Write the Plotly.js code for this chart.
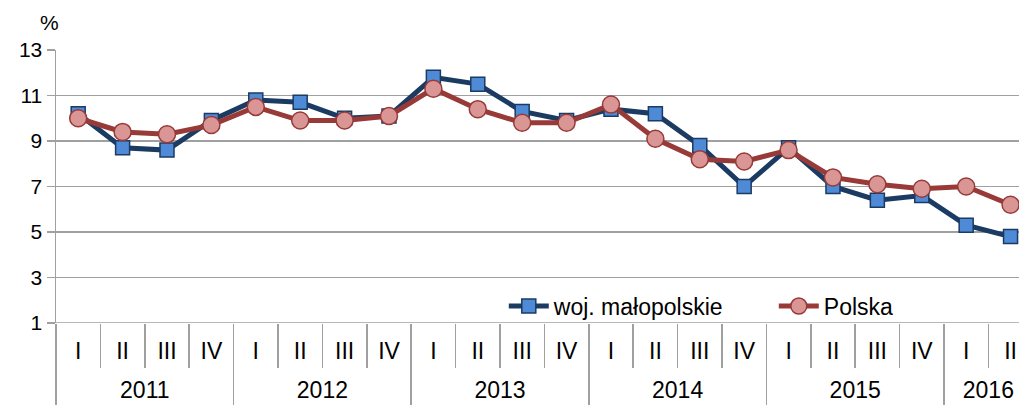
<!DOCTYPE html>
<html>
<head>
<meta charset="utf-8">
<script src="https://cdn.plot.ly/plotly-3.0.1.min.js"></script>
<style>html,body{margin:0;padding:0;background:#fff;}#chart{width:1019px;height:405px;}</style>
</head>
<body>
<div id="chart"></div>
<script>
const years = ["2011","2011","2011","2011","2012","2012","2012","2012","2013","2013","2013","2013","2014","2014","2014","2014","2015","2015","2015","2015","2016","2016"];
const quarters = ["I","II","III","IV","I","II","III","IV","I","II","III","IV","I","II","III","IV","I","II","III","IV","I","II"];
const malopolskie = [10.2, 8.7, 8.6, 9.9, 10.8, 10.7, 10.0, 10.1, 11.8, 11.5, 10.3, 9.9, 10.4, 10.2, 8.8, 7.0, 8.7, 7.0, 6.4, 6.6, 5.3, 4.8];
const polska = [10.0, 9.4, 9.3, 9.7, 10.5, 9.9, 9.9, 10.1, 11.3, 10.4, 9.8, 9.8, 10.6, 9.1, 8.2, 8.1, 8.6, 7.4, 7.1, 6.9, 7.0, 6.2];
const yTicks = [1, 3, 5, 7, 9, 11, 13];

// derived: unique category keys, year groups
const keys = years.map((y, i) => y + " " + quarters[i]);
const yearNames = [...new Set(years)];
const yearStart = yearNames.map(y => years.indexOf(y));
const yearEnd = yearNames.map(y => years.lastIndexOf(y));
const yearCenters = yearNames.map((y, k) => (yearStart[k] + yearEnd[k]) / 2);
const yearBounds = yearStart.map(s => s - 0.5);

const font = "Liberation Sans, Arial, sans-serif";
const grey = "#a0a0a0";
const xRange = [-0.5, 21.19];

function axisHolder(xs, axis) {
  return {x: xs, y: xs.map(() => null), xaxis: axis, yaxis: "y", type: "scatter", mode: "lines",
          showlegend: false, hoverinfo: "skip", line: {width: 0}};
}

const traces = [
  {
    x: keys, y: malopolskie, name: "woj. małopolskie",
    type: "scatter", mode: "lines+markers", cliponaxis: false,
    line: {color: "#1b3b63", width: 5},
    marker: {symbol: "square", size: 14, color: "#4f8ad6", line: {color: "#1b3b63", width: 1.5}}
  },
  {
    x: keys, y: polska, name: "Polska",
    type: "scatter", mode: "lines+markers", cliponaxis: false,
    line: {color: "#973a38", width: 5},
    marker: {symbol: "circle", size: 17, color: "#d99694", line: {color: "#973a38", width: 1.5}}
  },
  axisHolder(keys, "x2"),
  axisHolder(yearCenters, "x3"),
  axisHolder(yearBounds, "x4")
];

const layout = {
  width: 1019, height: 405,
  margin: {l: 56, r: 0, t: 50, b: 82, autoexpand: false},
  paper_bgcolor: "#fff", plot_bgcolor: "#fff",
  font: {family: font, size: 20, color: "#000"},
  showlegend: true,
  legend: {orientation: "h", x: 0.465, y: 0.062, xanchor: "left", yanchor: "middle",
           font: {family: font, size: 23, color: "#000"}, bgcolor: "rgba(0,0,0,0)",
           entrywidth: 215, itemwidth: 40, traceorder: "normal"},
  // quarter labels
  xaxis: {
    type: "category", categoryorder: "array", categoryarray: keys,
    range: xRange, autorange: false, automargin: false,
    tickvals: keys, ticktext: quarters,
    showline: false, showgrid: false, zeroline: false,
    ticks: "", ticklabelstandoff: 12,
    tickfont: {family: font, size: 23, color: "#000"}
  },
  // quarter separators
  xaxis2: {
    type: "category", categoryorder: "array", categoryarray: keys,
    overlaying: "x", anchor: "y", side: "bottom",
    range: xRange, autorange: false, automargin: false,
    tickvals: keys, tickson: "boundaries",
    ticks: "outside", ticklen: 44, tickcolor: grey, tickwidth: 1.5,
    showticklabels: false, showline: false, showgrid: false, zeroline: false
  },
  // year labels
  xaxis3: {
    type: "linear", overlaying: "x", anchor: "y", side: "bottom",
    range: xRange, autorange: false, automargin: false,
    tickvals: yearCenters, ticktext: yearNames,
    ticks: "", ticklabelstandoff: 51,
    tickfont: {family: font, size: 23, color: "#000"},
    showline: false, showgrid: false, zeroline: false
  },
  // year dividers
  xaxis4: {
    type: "linear", overlaying: "x", anchor: "y", side: "bottom",
    range: xRange, autorange: false, automargin: false,
    tickvals: yearBounds,
    ticks: "outside", ticklen: 82, tickcolor: grey, tickwidth: 1.5,
    showticklabels: false, showline: false, showgrid: false, zeroline: false
  },
  yaxis: {
    range: [1, 13], tickvals: yTicks, ticktext: yTicks.map(String),
    automargin: false,
    showgrid: true, gridcolor: grey, gridwidth: 1.5,
    showline: true, linecolor: grey, linewidth: 1.5,
    ticks: "outside", ticklen: 8, tickcolor: grey, tickwidth: 1.5,
    tickfont: {family: font, size: 21, color: "#000"},
    zeroline: false, fixedrange: true
  },
  shapes: [
    {type: "line", xref: "paper", yref: "y", x0: 0, x1: 1, y0: 1, y1: 1, line: {color: grey, width: 1.5}}
  ],
  annotations: [
    {text: "%", xref: "paper", yref: "paper", x: -0.007, y: 1, yshift: 28, showarrow: false,
     xanchor: "center", yanchor: "middle", font: {family: font, size: 21, color: "#000"}}
  ]
};

Plotly.newPlot("chart", traces, layout, {displayModeBar: false, staticPlot: true});
</script>
</body>
</html>
